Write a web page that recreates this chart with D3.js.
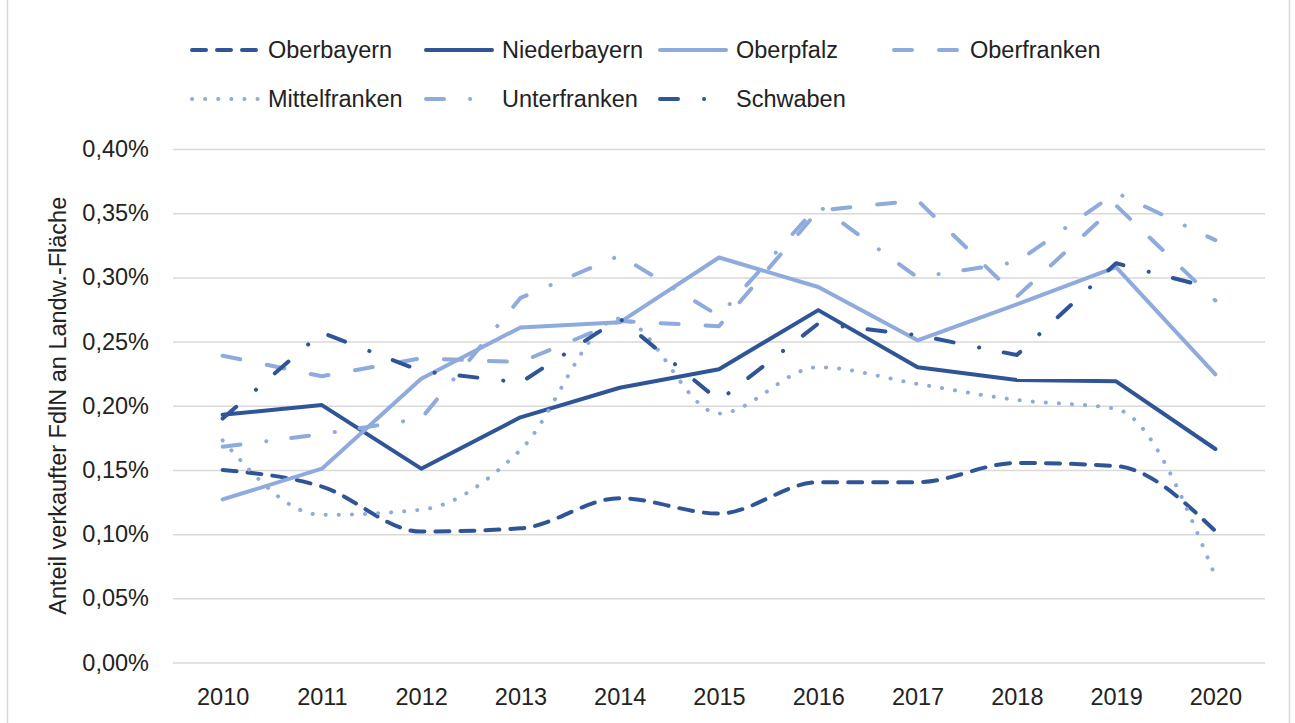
<!DOCTYPE html>
<html>
<head>
<meta charset="utf-8">
<script src="https://cdn.jsdelivr.net/npm/d3@7"></script>
<style>
  body { margin: 0; background: #fff; }
  svg { display: block; }
  text { font-family: "Liberation Sans", Arial, sans-serif; fill: #222; }
</style>
</head>
<body>
<svg id="chart" width="1295" height="723"></svg>
<script>
// data (values in percent of agricultural area)
const years = [2010, 2011, 2012, 2013, 2014, 2015, 2016, 2017, 2018, 2019, 2020]
const oberbayern = [0.150, 0.137, 0.102, 0.1045, 0.128, 0.116, 0.1405, 0.1405, 0.1555, 0.153, 0.1024]
const niederbayern = [0.193, 0.2005, 0.151, 0.191, 0.214, 0.2285, 0.2745, 0.230, 0.220, 0.219, 0.1663]
const oberpfalz = [0.127, 0.151, 0.221, 0.261, 0.265, 0.3155, 0.2925, 0.251, 0.279, 0.308, 0.2245]
const oberfranken = [0.239, 0.223, 0.237, 0.234, 0.266, 0.262, 0.352, 0.360, 0.285, 0.356, 0.282]
const mittelfranken = [0.173, 0.115, 0.119, 0.1655, 0.268, 0.194, 0.230, 0.217, 0.2045, 0.1975, 0.067]
const unterfranken = [0.168, 0.178, 0.190, 0.284, 0.317, 0.270, 0.356, 0.300, 0.312, 0.366, 0.329]
const schwaben = [0.190, 0.257, 0.227, 0.218, 0.268, 0.204, 0.264, 0.255, 0.2395, 0.311, 0.291]
const yTicks = [0, 0.05, 0.10, 0.15, 0.20, 0.25, 0.30, 0.35, 0.40]
const yTitle = 'Anteil verkaufter FdlN an Landw.-Fläche'

const width = 1295
const height = 723
const dark = '#2f5597'
const light = '#8faadc'

const plot = { left: 173, right: 1265, top: 149, bottom: 662.5 }

// series styles
const series = [
  { name: 'Oberbayern', values: oberbayern, color: dark, dash: '14,11', smooth: true },
  { name: 'Niederbayern', values: niederbayern, color: dark, dash: null, smooth: false },
  { name: 'Oberpfalz', values: oberpfalz, color: light, dash: null, smooth: false },
  { name: 'Oberfranken', values: oberfranken, color: light, dash: '18,27', smooth: false },
  { name: 'Mittelfranken', values: mittelfranken, color: light, dash: '0.1,13', smooth: true },
  { name: 'Unterfranken', values: unterfranken, color: light, dash: '18,26,0.1,25', smooth: false },
  { name: 'Schwaben', values: schwaben, color: dark, dash: '18,26,0.1,25', smooth: false },
]

const svg = d3.select('#chart')

// outer frame
svg.append('rect')
  .attr('x', 7.5).attr('y', -2)
  .attr('width', 1282).attr('height', height + 4)
  .attr('fill', 'none')
  .attr('stroke', '#d9d9d9')
  .attr('stroke-width', 1.5)

const x = d3.scalePoint()
  .domain(years)
  .range([plot.left, plot.right])
  .padding(0.5)

const y = d3.scaleLinear()
  .domain([0, 0.4])
  .range([plot.bottom, plot.top])

const fmt = (v) => d3.format('.2f')(v).replace('.', ',') + '%'

// y axis with grid
const yAxis = svg.append('g')
  .attr('transform', `translate(${plot.left},0)`)
  .call(d3.axisLeft(y).tickValues(yTicks).tickFormat(fmt)
    .tickSize(-(plot.right - plot.left)).tickPadding(24))
yAxis.select('.domain').remove()
yAxis.selectAll('line').attr('stroke', '#d9d9d9').attr('stroke-width', 1.5)
yAxis.selectAll('text')
  .attr('font-size', 23.5)
  .attr('font-family', '"Liberation Sans", Arial, sans-serif')
  .attr('fill', '#222')

// x axis
const xAxis = svg.append('g')
  .attr('transform', `translate(0,${plot.bottom})`)
  .call(d3.axisBottom(x).tickSize(0).tickPadding(26))
xAxis.select('.domain').remove()
xAxis.selectAll('text')
  .attr('font-size', 23.5)
  .attr('font-family', '"Liberation Sans", Arial, sans-serif')
  .attr('fill', '#222')

// y title
svg.append('text')
  .attr('transform', `translate(66,${(plot.top + plot.bottom) / 2}) rotate(-90)`)
  .attr('text-anchor', 'middle')
  .attr('font-size', 23.5)
  .text(yTitle)

// lines
const lineStraight = d3.line()
  .x((d, i) => x(years[i]))
  .y((d) => y(d))
const lineSmooth = d3.line()
  .curve(d3.curveMonotoneX)
  .x((d, i) => x(years[i]))
  .y((d) => y(d))

svg.append('g')
  .attr('id', 'lines')
  .selectAll('path')
  .data(series)
  .join('path')
  .attr('d', (s) => (s.smooth ? lineSmooth : lineStraight)(s.values))
  .attr('fill', 'none')
  .attr('stroke', (s) => s.color)
  .attr('stroke-width', 4)
  .attr('stroke-linecap', 'round')
  .attr('stroke-linejoin', 'round')
  .attr('stroke-dasharray', (s) => s.dash)

// legend
const legendCols = [190, 424, 658, 892]
const legendRows = [50, 99]
const legend = svg.append('g').attr('id', 'legend')
series.forEach((s, i) => {
  const row = i < 4 ? 0 : 1
  const col = i < 4 ? i : i - 4
  const g = legend.append('g')
    .attr('transform', `translate(${legendCols[col]},${legendRows[row]})`)
  g.append('line')
    .attr('x1', 2).attr('x2', 68)
    .attr('stroke', s.color)
    .attr('stroke-width', 4)
    .attr('stroke-linecap', 'round')
    .attr('stroke-dasharray', s.dash)
  g.append('text')
    .attr('x', 78)
    .attr('dy', '0.35em')
    .attr('font-size', 23.5)
    .text(s.name)
})
</script>
</body>
</html>
